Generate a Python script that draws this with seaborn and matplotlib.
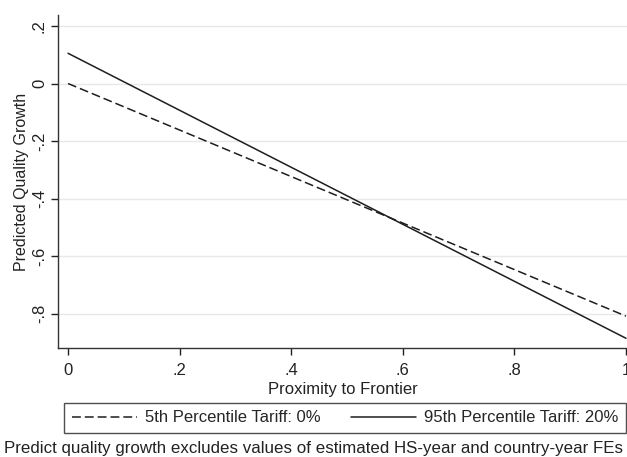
import pandas as pd
import matplotlib.pyplot as plt
import seaborn as sns

# Valores (rectas: extremos en x=0 y x=1)
proximity = [0.0, 1.0]
low_tariff = [0.0, -0.808]
high_tariff = [0.105, -0.885]
series = ['5th Percentile Tariff: 0%', '95th Percentile Tariff: 20%']
x_ticks = [0, 0.2, 0.4, 0.6, 0.8, 1.0]
x_labels = ['0', '.2', '.4', '.6', '.8', '1']
y_ticks = [0.2, 0.0, -0.2, -0.4, -0.6, -0.8]
y_labels = ['.2', '0', '-.2', '-.4', '-.6', '-.8']

df = pd.DataFrame({
    'x': proximity * 2,
    'y': low_tariff + high_tariff,
    'serie': [series[0]] * 2 + [series[1]] * 2,
})

sns.set_theme(style='white')
plt.rcParams['font.family'] = ['Liberation Sans', 'DejaVu Sans']

W, H = 627, 457
fig = plt.figure(figsize=(6.27, 4.57), dpi=100)
ax = fig.add_axes([58 / W, 1 - 348 / H, 569 / W, 333 / H])

sns.lineplot(data=df, x='x', y='y', hue='serie', style='serie',
             palette=['#1e1e1e', '#1e1e1e'],
             dashes={series[0]: (5.8, 2.6), series[1]: ''},
             linewidth=1.1, ax=ax, legend=True)

ax.set_xlim(-0.018, 1.0018)
ax.set_ylim(-0.9187, 0.238)
ax.set_xticks(x_ticks)
ax.set_xticklabels(x_labels, fontsize=12)
ax.set_yticks(y_ticks)
ax.set_yticklabels(y_labels, fontsize=12, rotation=90, va='center')
for yt in y_ticks:
    ax.axhline(yt, color='#e8e8e8', linewidth=1, zorder=0)

ax.tick_params(axis='x', pad=6)
ax.tick_params(axis='y', pad=3)
ax.set_xlabel('Proximity to Frontier', fontsize=12, labelpad=3, color='#222222')
ax.set_ylabel('Predicted Quality Growth', fontsize=11.5, labelpad=2, color='#222222')
ax.tick_params(axis='both', direction='out', length=5, width=1, colors='#222222',
               bottom=True, left=True)
sns.despine(ax=ax)
for s in ['left', 'bottom']:
    ax.spines[s].set_color('#333333')
    ax.spines[s].set_linewidth(1)

handles, labels = ax.get_legend_handles_labels()
ax.get_legend().remove()
leg = fig.legend(handles, labels, ncol=2, mode='expand',
                 bbox_to_anchor=(64 / W, 1 - 433 / H, 562 / W, 30 / H),
                 loc='lower left', fontsize=12, frameon=True, fancybox=False,
                 handlelength=3.9, handletextpad=0.5, borderaxespad=0,
                 borderpad=0.45, columnspacing=1.5)
leg.get_frame().set_edgecolor('#222222')
leg.get_frame().set_linewidth(1)

# Nota al pie (recortada en los bordes como en el original)
fig.text(0.5, 1 - 449 / H,
         'Predict quality growth excludes values of estimated HS-year and country-year FEs',
         ha='center', va='center', fontsize=12.2, color='#222222')

plt.savefig('out.png', dpi=100)
